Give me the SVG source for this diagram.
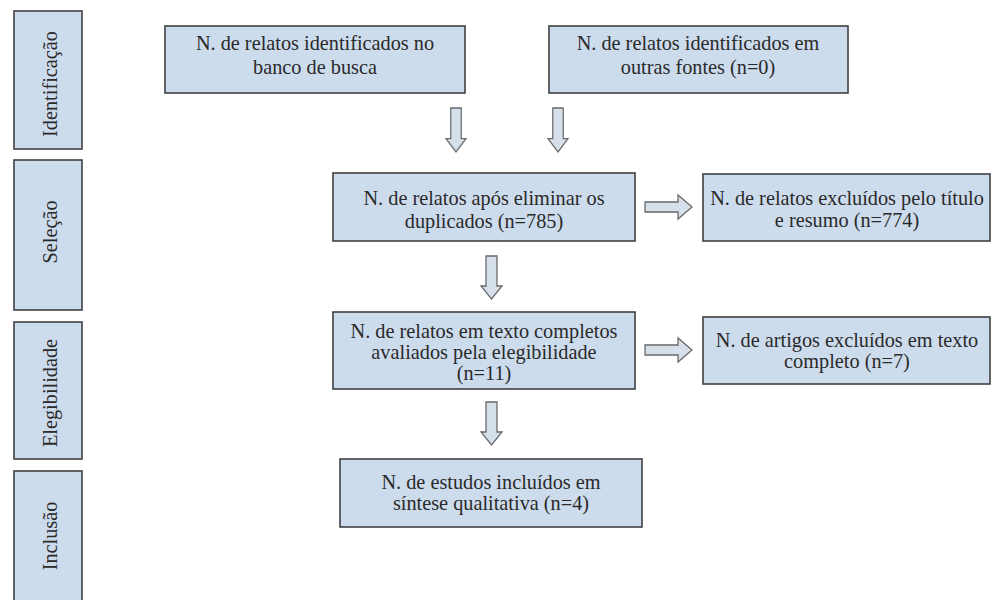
<svg xmlns="http://www.w3.org/2000/svg" width="995" height="600" viewBox="0 0 995 600">
<style>
.box{fill:#cddced;stroke:#404040;stroke-width:1.6}
.t{font-family:"Liberation Serif","Times New Roman",serif;font-size:20.3px;fill:#2a2a2a;text-anchor:middle}
.arr{fill:#d6e0ea;stroke:#6a6a6a;stroke-width:1.3}
</style>
<defs>
<path id="arrow-down" d="M-5.5,0 L5.5,0 L5.5,30 L10.5,30 L0,43 L-10.5,30 L-5.5,30 Z"/>
<path id="arrow-right" d="M0,-5 L33,-5 L33,-12 L47,0 L33,12 L33,5 L0,5 Z"/>
</defs>
<rect width="995" height="600" fill="#ffffff"/>
<g id="stage-identificacao"><rect class="box" x="14" y="11" width="68" height="138"/><text class="t" transform="translate(57,84) rotate(-90)">Identificação</text></g>
<g id="stage-selecao"><rect class="box" x="14" y="160" width="68" height="150"/><text class="t" transform="translate(57,232) rotate(-90)">Seleção</text></g>
<g id="stage-elegibilidade"><rect class="box" x="14" y="322" width="68" height="137"/><text class="t" transform="translate(57,393) rotate(-90)">Elegibilidade</text></g>
<g id="stage-inclusao"><rect class="box" x="14" y="471" width="68" height="140"/><text class="t" transform="translate(57,536) rotate(-90)">Inclusão</text></g>

<g id="n1"><rect class="box" x="165" y="26" width="300" height="67"/><text class="t" x="315" y="50">N. de relatos identificados no</text><text class="t" x="315" y="74">banco de busca</text></g>
<g id="n2"><rect class="box" x="549" y="26" width="299" height="67"/><text class="t" x="698" y="50">N. de relatos identificados em</text><text class="t" x="698" y="74">outras fontes (n=0)</text></g>
<g id="n3"><rect class="box" x="333" y="173" width="302" height="68"/><text class="t" x="484" y="205">N. de relatos após eliminar os</text><text class="t" x="484" y="228">duplicados (n=785)</text></g>
<g id="n4"><rect class="box" x="703" y="174" width="287" height="67"/><text class="t" x="847" y="205">N. de relatos excluídos pelo título</text><text class="t" x="847" y="227">e resumo (n=774)</text></g>
<g id="n5"><rect class="box" x="333" y="312" width="302" height="77"/><text class="t" x="484" y="338">N. de relatos em texto completos</text><text class="t" x="484" y="359">avaliados pela elegibilidade</text><text class="t" x="484" y="380">(n=11)</text></g>
<g id="n6"><rect class="box" x="703" y="317" width="287" height="67"/><text class="t" x="847" y="347">N. de artigos excluídos em texto</text><text class="t" x="847" y="368">completo (n=7)</text></g>
<g id="n7"><rect class="box" x="340" y="459" width="302" height="68"/><text class="t" x="491" y="489">N. de estudos incluídos em</text><text class="t" x="491" y="510">síntese qualitativa (n=4)</text></g>

<g id="connectors">
<use class="arr" href="#arrow-down" transform="translate(456,108) scale(0.95,1.02)"/>
<use class="arr" href="#arrow-down" transform="translate(558,108) scale(0.95,1.02)"/>
<use class="arr" href="#arrow-down" transform="translate(491.5,256)"/>
<use class="arr" href="#arrow-down" transform="translate(491.5,402)"/>
<use class="arr" href="#arrow-right" transform="translate(645,207)"/>
<use class="arr" href="#arrow-right" transform="translate(645,350)"/>
</g>
</svg>
